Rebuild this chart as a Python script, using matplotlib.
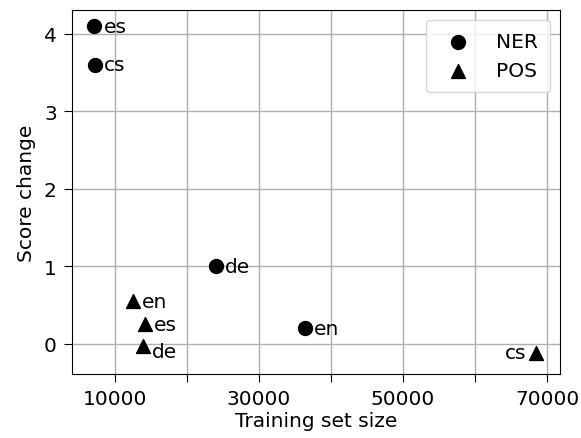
import matplotlib
matplotlib.use("Agg")
import matplotlib.pyplot as plt

ner_langs = ["es", "cs", "de", "en"]
ner_sizes = [7200, 7300, 24000, 36400]
ner_change = [4.1, 3.6, 1.0, 0.2]

pos_langs = ["en", "es", "de", "cs"]
pos_sizes = [12600, 14200, 13900, 68500]
pos_change = [0.55, 0.25, -0.03, -0.12]

plt.rcParams['font.size'] = 14.5
plt.rcParams['xtick.major.size'] = 6
plt.rcParams['ytick.major.size'] = 6
plt.rcParams['xtick.major.pad'] = 5
plt.rcParams['ytick.major.pad'] = 5
fig, ax = plt.subplots(figsize=(5.81, 4.39), dpi=100)
ax.scatter(ner_sizes, ner_change, marker='o', s=100, color='black', label='NER', zorder=3)
ax.scatter(pos_sizes, pos_change, marker='^', s=100, color='black', label='POS', zorder=3)

for x, y, t in zip(ner_sizes, ner_change, ner_langs):
    ax.annotate(t, (x, y), xytext=(6.5, 0), textcoords='offset points', va='center', ha='left')
for x, y, t in zip(pos_sizes, pos_change, pos_langs):
    if t == 'cs':
        ax.annotate(t, (x, y), xytext=(-7, 0), textcoords='offset points', va='center', ha='right')
    elif t == 'de':
        ax.annotate(t, (x, y), xytext=(6.5, -4), textcoords='offset points', va='center', ha='left')
    else:
        ax.annotate(t, (x, y), xytext=(6.5, 0), textcoords='offset points', va='center', ha='left')

xt = [10000, 20000, 30000, 40000, 50000, 60000, 70000]
ax.set_xticks(xt)
ax.set_xticklabels([str(v) if i % 2 == 0 else "" for i, v in enumerate(xt)])
ax.set_yticks([0, 1, 2, 3, 4])
ax.set_xlim(4100, 71800)
ax.set_ylim(-0.39, 4.31)
ax.grid(True, color='#b0b0b0', linewidth=1.0)
ax.set_axisbelow(True)
ax.set_xlabel('Training set size', labelpad=2)
ax.set_ylabel('Score change', labelpad=6)
ax.legend(loc='upper right', borderpad=0.6, handletextpad=0.9)
fig.subplots_adjust(left=0.124, right=0.964, top=0.975, bottom=0.146)
fig.savefig('out.png', dpi=100)
